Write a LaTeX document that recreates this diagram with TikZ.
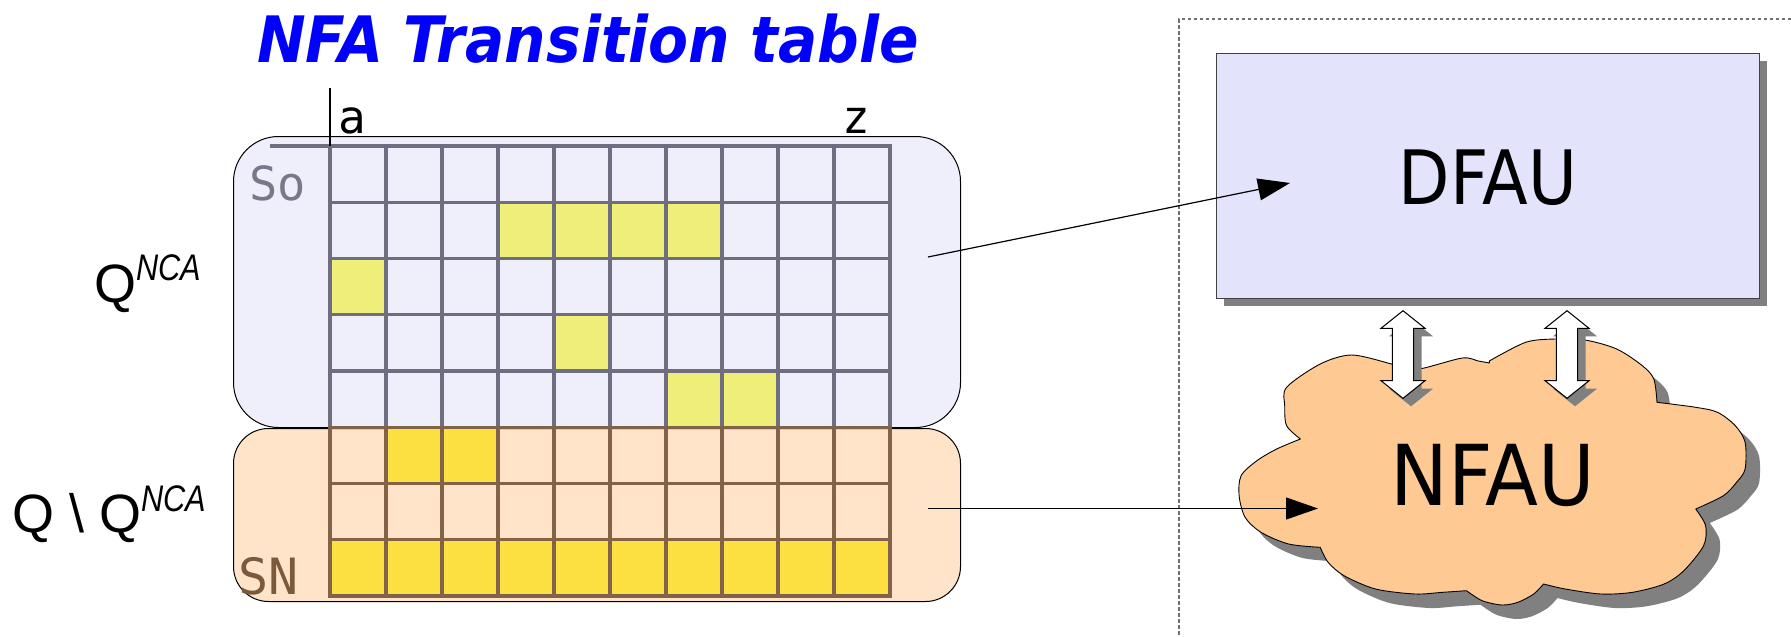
\documentclass[tikz,border=0pt]{standalone}
\usepackage{fontspec}
\usepackage{graphicx}
\setmainfont{DejaVu Sans}
\newfontfamily\monof{DejaVu Sans Mono}
\newfontfamily\arialf{Liberation Sans}
\usetikzlibrary{arrows.meta,shadows}

\definecolor{lavfill}{HTML}{EFEFFB}
\definecolor{lavline}{HTML}{6E6E80}
\definecolor{orfill}{HTML}{FFE4CA}
\definecolor{orline}{HTML}{82634A}
\definecolor{lightyel}{HTML}{EEEE78}
\definecolor{strongyel}{HTML}{FCE042}
\definecolor{dfaufill}{HTML}{E3E3FB}
\definecolor{cloudfill}{HTML}{FFC994}
\definecolor{shadowc}{HTML}{808080}
\definecolor{framec}{HTML}{707070}
\definecolor{solabel}{HTML}{78788A}
\definecolor{snlabel}{HTML}{7A5A3A}

\begin{document}
\begin{tikzpicture}[x=1pt,y=-1pt,
  panel/.style={draw=black,line width=1pt,inner sep=0pt,anchor=north west},
  lavgrid/.style={draw=lavline,line width=3.4pt,line cap=rect},
  orgrid/.style={draw=orline,line width=3.4pt,line cap=rect},
  collabel/.style={font=\monof\fontsize{46}{50}\selectfont,text=black,inner sep=0pt,anchor=base west},
  rowlabel/.style={font=\monof\fontsize{47}{50}\selectfont,inner sep=0pt,anchor=base west},
  setlabel/.style={font=\arialf\fontsize{54}{60}\selectfont,inner sep=0pt,anchor=base west},
  unitbox/.style={draw=black!75,line width=1.2pt,fill=dfaufill,inner sep=0pt,anchor=north west,
    drop shadow={shadow xshift=7pt,shadow yshift=-7pt,opacity=1,fill=shadowc}},
  cloudshadow/.style={fill=shadowc},
  cloudbody/.style={fill=cloudfill,draw=black,line width=0.9pt,line join=round},
  link/.style={draw=black,line width=1.2pt,-{Triangle[length=32pt,width=22pt]}},
  dblarrow/.style={fill=white,draw=black,line width=1pt,line join=miter},
  dblshadow/.style={fill=shadowc},
  frame/.style={draw=framec,line width=1.2pt,dash pattern=on 3.5pt off 2.5pt}]

\fill[white] (0,0) rectangle (1791,637);
\useasboundingbox (0,0) rectangle (1791,637);

% title
\node[anchor=base west,inner sep=0pt,text=blue] (title) at (257,62)
  {\fontsize{64}{68}\selectfont\bfseries\itshape\scalebox{0.91}[1]{NFA Transition table}};

% state-set panels
\node[panel,fill=lavfill,rounded corners=45pt,minimum width=727pt,minimum height=291pt] (nca) at (233,136) {};
\node[panel,fill=orfill,rounded corners=35pt,minimum width=727pt,minimum height=173pt] (rest) at (233,428) {};

% marked transitions
\foreach \c/\r in {3/1,4/1,5/1,6/1,0/2,4/3,6/4,7/4}
  \fill[lightyel] (330+56*\c,146+56.25*\r) rectangle ++(56,56.25);
\foreach \c/\r in {1/5,2/5,0/7,1/7,2/7,3/7,4/7,5/7,6/7,7/7,8/7,9/7}
  \fill[strongyel] (330+56*\c,146+56.25*\r) rectangle ++(56,56.25);

% table grid
\foreach \i in {0,...,10} \draw[lavgrid] (330+56*\i,146) -- (330+56*\i,427.25);
\foreach \j in {1,...,4} \draw[lavgrid] (330,146+56.25*\j) -- (890,146+56.25*\j);
\draw[lavgrid] (272,146) -- (890,146);
\foreach \i in {0,...,10} \draw[orgrid] (330+56*\i,427.25) -- (330+56*\i,596);
\foreach \j in {5,...,8} \draw[orgrid] (330,146+56.25*\j) -- (890,146+56.25*\j);
\draw[black,line width=2.5pt] (330,88) -- (330,146);

% column and row labels
\node[collabel] (cola) at (338,133) {a};
\node[collabel] (colz) at (842,133) {z};
\node[rowlabel,text=solabel] (so) at (249,200) {So};
\node[rowlabel,text=snlabel,font=\monof\fontsize{50}{52}\selectfont] (sn) at (238,594) {SN};

% set names
\node[setlabel] (qnca) at (94,302)
  {Q\raisebox{22pt}{\fontsize{37}{40}\selectfont\itshape\scalebox{0.83}[1]{NCA}}};
\node[setlabel] (qrest) at (12,532)
  {Q \textbackslash{} Q\raisebox{21pt}{\fontsize{37}{40}\selectfont\itshape\scalebox{0.83}[1]{NCA}}};

% frame of the automaton units
\draw[frame] (1791,19) -- (1179,19) -- (1179,637);

% DFAU
\node[unitbox,minimum width=543pt,minimum height=245pt] (dfau) at (1216,53) {};
\node[inner sep=0pt] (dfaulabel) at (1488,178)
  {\fontsize{75}{80}\selectfont\scalebox{0.89}[1]{DFAU}};

% NFAU cloud with its shadow
\foreach \s/\st in {14/cloudshadow,0/cloudbody}
  \path[\st,shift={(\s,\s-1)}]
    plot[smooth] coordinates {(1300.4,440) (1286.6,426.7) (1284.7,406.7) (1286.6,388.3) (1320.2,365) (1351.8,356) (1391.4,365) (1407.2,370)}
    -- plot[smooth] coordinates {(1407.2,370) (1422.9,369.3) (1462.5,359) (1478.3,362) (1489.3,364)}
    -- plot[smooth] coordinates {(1489.3,362) (1525.7,343.3) (1555.4,340) (1585,341) (1616.7,350) (1642.3,366.7) (1653.8,380) (1657,403.3)}
    -- plot[smooth] coordinates {(1657,403.3) (1695.7,408.3) (1717.5,413.3) (1735.3,426.7) (1745.1,443.3) (1745.1,470) (1736.8,483) (1723.4,496.7) (1695.7,510)}
    -- plot[smooth] coordinates {(1695.7,510) (1705.6,526.7) (1703.6,546.7) (1683.8,571.7) (1664.1,585) (1632.5,593.3) (1600.8,595) (1565.2,590) (1543.5,585)}
    -- plot[smooth] coordinates {(1543.5,585) (1533.7,595) (1517.8,603.3) (1502,606) (1482.2,601.7) (1466.5,591.7)}
    -- plot[smooth] coordinates {(1466.5,591.7) (1442.7,593.3) (1415.1,595) (1375.5,590) (1344,576.7) (1328.1,563.3) (1320.2,548.3)}
    -- plot[smooth] coordinates {(1320.2,548.3) (1288.6,545) (1261,533.3) (1245.1,518.3) (1239.1,496.7) (1241.1,476.7) (1256.9,461.7) (1276.7,450) (1300.4,440)}
    -- cycle;
\node[inner sep=0pt] (nfau) at (1493,475)
  {\fontsize{84}{88}\selectfont\scalebox{0.92}[1]{NFAU}};

% two-way links between DFAU and NFAU
\foreach \c in {1403,1567}{
  \foreach \s/\st in {8/dblshadow,0/dblarrow}
    \path[\st,shift={(\s,\s-1)}] (\c,311.7) -- (\c+22,329.3) -- (\c+10.7,329.3) -- (\c+10.7,381.7)
      -- (\c+22,381.7) -- (\c,399.3) -- (\c-22,381.7) -- (\c-10.7,381.7) -- (\c-10.7,329.3)
      -- (\c-22,329.3) -- cycle;
}

% links from the state sets to the units
\coordinate (s1) at (928,257);
\coordinate (t1) at (1290,183);
\coordinate (s2) at (928,508.5);
\coordinate (t2) at (1318,508.5);
\draw[link] (s1) -- (t1);
\draw[link] (s2) -- (t2);

\end{tikzpicture}
\end{document}
